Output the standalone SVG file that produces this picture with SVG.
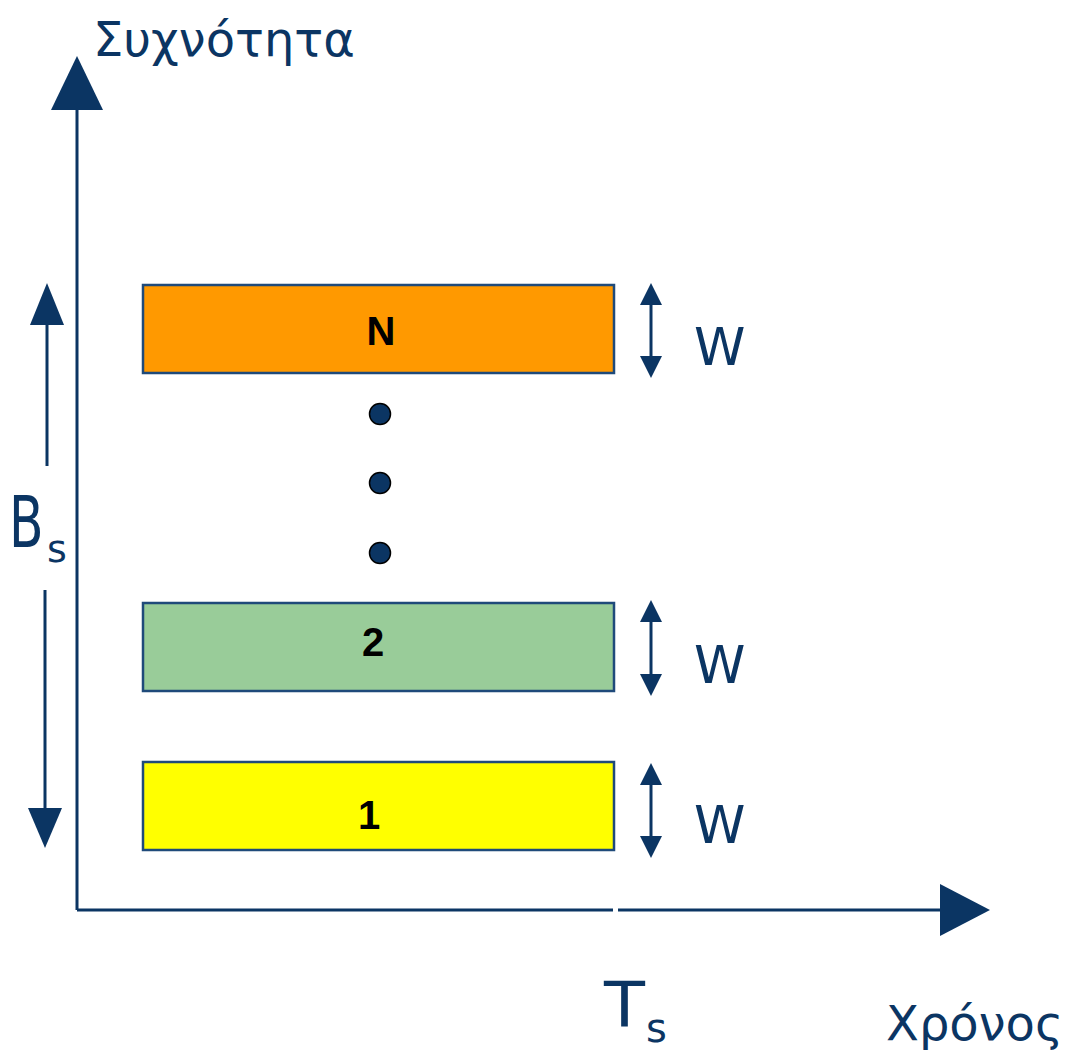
<svg xmlns="http://www.w3.org/2000/svg" width="1066" height="1054" viewBox="0 0 1066 1054">
  <style>
    .axis { stroke: #0b3563; stroke-width: 3; fill: none; }
    .thin { stroke: #0b3563; stroke-width: 3; fill: none; }
    .head { fill: #0b3563; }
    .band { stroke: #1f4a7a; stroke-width: 2.5; }
    .lbl { font-family: "Liberation Sans", Arial, sans-serif; font-weight: bold; font-size: 40px; fill: #000; text-anchor: middle; }
    .hand { font-family: "DejaVu Sans", "Noto Sans", sans-serif; fill: #0b3563; }
    .dot { fill: #0b3563; stroke: #000; stroke-width: 1.5; }
  </style>
  <rect width="1066" height="1054" fill="#fff"/>

  <g id="connectors">
    <!-- frequency axis -->
    <line class="axis" x1="77" y1="105" x2="77" y2="910"/>
    <polygon class="head" points="77,56 51,110 103,110"/>
    <!-- time axis, with a small gap at Ts -->
    <line class="axis" x1="77" y1="910" x2="613" y2="910"/>
    <line class="axis" x1="618" y1="910" x2="945" y2="910"/>
    <polygon class="head" points="990,910 940,884 940,936"/>
    <!-- total bandwidth Bs -->
    <line class="thin" x1="47" y1="320" x2="47" y2="466"/>
    <polygon class="head" points="47,283 30,325 64,325"/>
    <line class="thin" x1="45" y1="590" x2="45" y2="812"/>
    <polygon class="head" points="45,848 28,808 62,808"/>
    <!-- sub-band width W arrows -->
    <line class="thin" x1="651" y1="300" x2="651" y2="362"/>
    <polygon class="head" points="651,283 640,305 662,305"/>
    <polygon class="head" points="651,378 640,356 662,356"/>
    <line class="thin" x1="651" y1="617" x2="651" y2="680"/>
    <polygon class="head" points="651,600 640,622 662,622"/>
    <polygon class="head" points="651,696 640,674 662,674"/>
    <line class="thin" x1="651" y1="780" x2="651" y2="842"/>
    <polygon class="head" points="651,763 640,785 662,785"/>
    <polygon class="head" points="651,858 640,836 662,836"/>
  </g>

  <g id="axis-labels">
    <text class="hand" x="93" y="56" font-size="48">Συχνότητα</text>
    <text class="hand" x="886" y="1040" font-size="48">Χρόνος</text>
    <text class="hand" x="604" y="1026" font-size="62" textLength="41" lengthAdjust="spacingAndGlyphs">T</text>
    <text class="hand" x="646" y="1042" font-size="40">s</text>
    <!-- narrowed B for the bandwidth label -->
    <text class="hand" transform="translate(9,547) scale(0.7,1)" font-size="72">B</text>
    <text class="hand" x="47" y="562" font-size="38">s</text>
  </g>

  <g id="band-N">
    <rect class="band" x="143" y="285" width="471" height="88" fill="#ff9900"/>
    <text class="lbl" x="381" y="345">N</text>
    <text class="hand" x="694" y="365" font-size="52">W</text>
  </g>

  <g id="ellipsis">
    <circle class="dot" cx="380" cy="414" r="10.5"/>
    <circle class="dot" cx="380" cy="483" r="10.5"/>
    <circle class="dot" cx="380" cy="553" r="10.5"/>
  </g>

  <g id="band-2">
    <rect class="band" x="143" y="603" width="471" height="88" fill="#99cc99"/>
    <text class="lbl" x="373" y="656">2</text>
    <text class="hand" x="694" y="683" font-size="52">W</text>
  </g>

  <g id="band-1">
    <rect class="band" x="143" y="762" width="471" height="88" fill="#ffff00"/>
    <text class="lbl" x="369" y="829">1</text>
    <text class="hand" x="694" y="843" font-size="52">W</text>
  </g>
</svg>
